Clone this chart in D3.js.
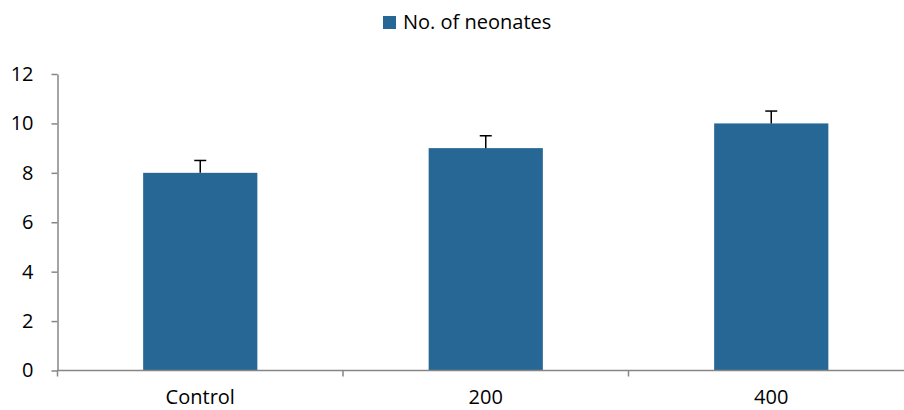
<!DOCTYPE html>
<head>
<meta charset="utf-8">
<style>
  body { margin:0; background:#fff; }
  svg { display:block; }
  text { font-family: "Open Sans", "Noto Sans", sans-serif; fill:#000; }
</style>
<script src="https://d3js.org/d3.v7.min.js"></script>
</head>
<body>
<script>

var categories = ["Control", "200", "400"];
var neonates = [8, 9, 10];
var errors = [0.5, 0.5, 0.5];
var yTicks = [0, 2, 4, 6, 8, 10, 12];
var seriesName = "No. of neonates";

var width = 904, height = 410;
var barColor = "#276795";
var axisColor = "#868686";

var svg = d3.select("body").append("svg")
    .attr("width", width)
    .attr("height", height);

// plot area, right end runs a little past the window like in the original
var x = d3.scaleBand()
    .domain(categories)
    .range([57.5, 914])
    .paddingInner(0.6)
    .paddingOuter(0.3);

var y = d3.scaleLinear()
    .domain([0, 12])
    .range([370.5, 74]);

// bars
svg.selectAll("rect.bar")
    .data(neonates)
    .enter().append("rect")
    .attr("class", "bar")
    .attr("x", function(d, i) { return x(categories[i]); })
    .attr("width", x.bandwidth())
    .attr("y", function(d) { return y(d); })
    .attr("height", function(d) { return y(0) - y(d); })
    .attr("fill", barColor);

// error bars (upper only)
var err = svg.append("g").attr("class", "errors")
    .selectAll("g")
    .data(neonates)
    .enter().append("g");
err.append("line")
    .attr("x1", function(d, i) { return x(categories[i]) + x.bandwidth() / 2; })
    .attr("x2", function(d, i) { return x(categories[i]) + x.bandwidth() / 2; })
    .attr("y1", function(d) { return y(d); })
    .attr("y2", function(d, i) { return y(d + errors[i]); })
    .attr("stroke", "#000")
    .attr("stroke-width", 1.5);
err.append("line")
    .attr("x1", function(d, i) { return x(categories[i]) + x.bandwidth() / 2 - 6; })
    .attr("x2", function(d, i) { return x(categories[i]) + x.bandwidth() / 2 + 6; })
    .attr("y1", function(d, i) { return y(d + errors[i]); })
    .attr("y2", function(d, i) { return y(d + errors[i]); })
    .attr("stroke", "#000")
    .attr("stroke-width", 1.5);

// y axis
var yAxis = svg.append("g")
    .attr("transform", "translate(57.5,0)")
    .call(d3.axisLeft(y).tickValues(yTicks).tickSize(6).tickPadding(18).tickSizeOuter(0));
yAxis.select(".domain").attr("stroke", axisColor).attr("stroke-width", 1.5);
yAxis.selectAll(".tick line").attr("stroke", axisColor).attr("stroke-width", 1.5);
yAxis.selectAll(".tick text").attr("font-size", 20).attr("fill", "#000")
    .attr("font-family", "'Open Sans', sans-serif");

// x axis: ticks at the band edges
var edges = categories.map(function(c) { return x(c) - x.step() * x.paddingInner() / 2; });
edges.push(x(categories[categories.length - 1]) + x.bandwidth() + x.step() * x.paddingInner() / 2);
var xAxis = svg.append("g").attr("class", "xaxis");
xAxis.append("line")
    .attr("x1", 57.5).attr("x2", width)
    .attr("y1", y(0)).attr("y2", y(0))
    .attr("stroke", axisColor).attr("stroke-width", 1.5);
xAxis.selectAll("line.tick")
    .data(edges)
    .enter().append("line")
    .attr("class", "tick")
    .attr("x1", function(d) { return d; }).attr("x2", function(d) { return d; })
    .attr("y1", y(0)).attr("y2", y(0) + 6)
    .attr("stroke", axisColor).attr("stroke-width", 1.5);
xAxis.selectAll("text")
    .data(categories)
    .enter().append("text")
    .attr("x", function(d) { return x(d) + x.bandwidth() / 2; })
    .attr("y", 404)
    .attr("text-anchor", "middle")
    .attr("font-size", 20)
    .text(function(d) { return d; });

// legend
var legend = svg.append("g").attr("transform", "translate(383,16)");
legend.append("rect")
    .attr("width", 13).attr("height", 13)
    .attr("fill", barColor);
legend.append("text")
    .attr("x", 20).attr("y", 13)
    .attr("font-size", 20)
    .text(seriesName);

</script>
</body>
